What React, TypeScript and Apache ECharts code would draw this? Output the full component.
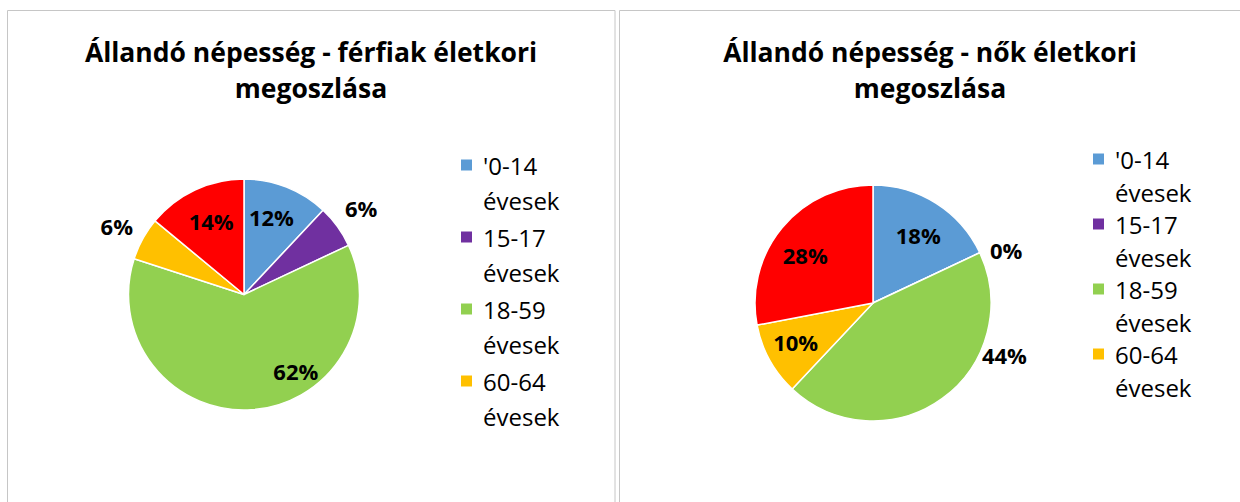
import React, { useEffect, useRef } from "react";
import * as echarts from "echarts";

const categories = ["'0-14 évesek", "15-17 évesek", "18-59 évesek", "60-64 évesek", "65 év felettiek"];
const legendCategories = ["'0-14 évesek", "15-17 évesek", "18-59 évesek", "60-64 évesek"];
const maleValues = [12, 6, 62, 6, 14];
const femaleValues = [18, 0, 44, 10, 28];
const maleTitle = "Állandó népesség - férfiak életkori\nmegoszlása";
const femaleTitle = "Állandó népesség - nők életkori\nmegoszlása";

const colors = ["#5B9BD5", "#7030A0", "#92D050", "#FFC000", "#FF0000"];
const maleLabelOffsets = [[5, -21], [68, -51], [48, 16], [-74, -39], [-7, -19]];
const femaleLabelOffsets = [[12, -16], [77, -27], [95, 2], [-23, 9], [-20, -8]];

const FONT = "Open Sans";

function buildData(values: number[], offsets: number[][]) {
  return categories.map((name, i) => ({
    name,
    value: values[i],
    label: { offset: offsets[i] },
  }));
}

function pieSeries(values: number[], offsets: number[][], center: number[], radius: number) {
  return {
    type: "pie",
    center,
    radius: [0, radius],
    startAngle: 90,
    clockwise: true,
    stillShowZeroSum: true,
    minShowLabelAngle: 0,
    avoidLabelOverlap: false,
    itemStyle: { borderColor: "#ffffff", borderWidth: 1.5 },
    label: {
      show: true,
      position: "inside",
      formatter: (p: any) => Math.round(p.percent) + "%",
      fontFamily: FONT,
      fontWeight: "bold",
      fontSize: 22,
      color: "#000000",
    },
    labelLine: { show: false },
    emphasis: { disabled: true },
    data: buildData(values, offsets),
  };
}

// Two-line legend entries: first line box l1, second line box l2 (extra top padding
// gives the wider in-entry spacing). The 13px square sits on the first line.
function legendDef(left: number, top: number, l1: number, l2: number) {
  const h = l1 + l2;
  const s = l1 / 2 - 6.5;
  const icon = `path://M0,0 M0,${s}h13v13h-13z M13,${h}`;
  const pad2 = Math.max(0, l2 - l1);
  return {
    orient: "vertical",
    left,
    top,
    padding: 0,
    itemWidth: 13,
    itemHeight: h,
    itemGap: 0,
    icon,
    selectedMode: false,
    data: legendCategories,
    formatter: (n: string) => {
      const parts = n.split(" ");
      return `{a|${parts[0]}}\n{b|${parts.slice(1).join(" ")}}`;
    },
    textStyle: {
      fontFamily: FONT,
      fontSize: 24,
      color: "#000000",
      padding: [0, 0, 0, 5],
      rich: {
        a: { fontFamily: FONT, fontSize: 24, color: "#000000", lineHeight: l1 },
        b: { fontFamily: FONT, fontSize: 24, color: "#000000", lineHeight: l2, padding: [pad2, 0, 0, 0] },
      },
    },
  };
}

export default function App() {
  const ref = useRef<HTMLDivElement>(null);
  useEffect(() => {
    if (!ref.current) return;
    const chart = echarts.init(ref.current, null, { renderer: "svg" });
    chart.setOption({
      animation: false,
      backgroundColor: "#ffffff",
      color: colors,
      title: [
        {
          text: maleTitle,
          left: 311,
          top: 34,
          textAlign: "center",
          padding: 0,
          textStyle: { fontFamily: FONT, fontWeight: "bold", fontSize: 26.5, lineHeight: 36, color: "#000000" },
        },
        {
          text: femaleTitle,
          left: 930,
          top: 34,
          textAlign: "center",
          padding: 0,
          textStyle: { fontFamily: FONT, fontWeight: "bold", fontSize: 26.5, lineHeight: 36, color: "#000000" },
        },
      ],
      legend: [legendDef(459, 146.5, 35, 35), legendDef(1091, 143.25, 29.5, 33.5)],
      graphic: [
        {
          type: "rect",
          silent: true,
          shape: { x: 7.5, y: 10.5, width: 607.5, height: 600 },
          style: { fill: "none", stroke: "#c6c6c6", lineWidth: 1 },
        },
        {
          type: "rect",
          silent: true,
          shape: { x: 619.5, y: 10.5, width: 700, height: 600 },
          style: { fill: "none", stroke: "#c6c6c6", lineWidth: 1 },
        },
      ],
      series: [
        pieSeries(maleValues, maleLabelOffsets, [244, 294.5], 115.5),
        pieSeries(femaleValues, femaleLabelOffsets, [873, 303], 118),
      ],
    });
    return () => chart.dispose();
  }, []);
  return (
    <div
      ref={ref}
      style={{ position: "absolute", left: 0, top: 0, width: 1240, height: 502 }}
    />
  );
}
